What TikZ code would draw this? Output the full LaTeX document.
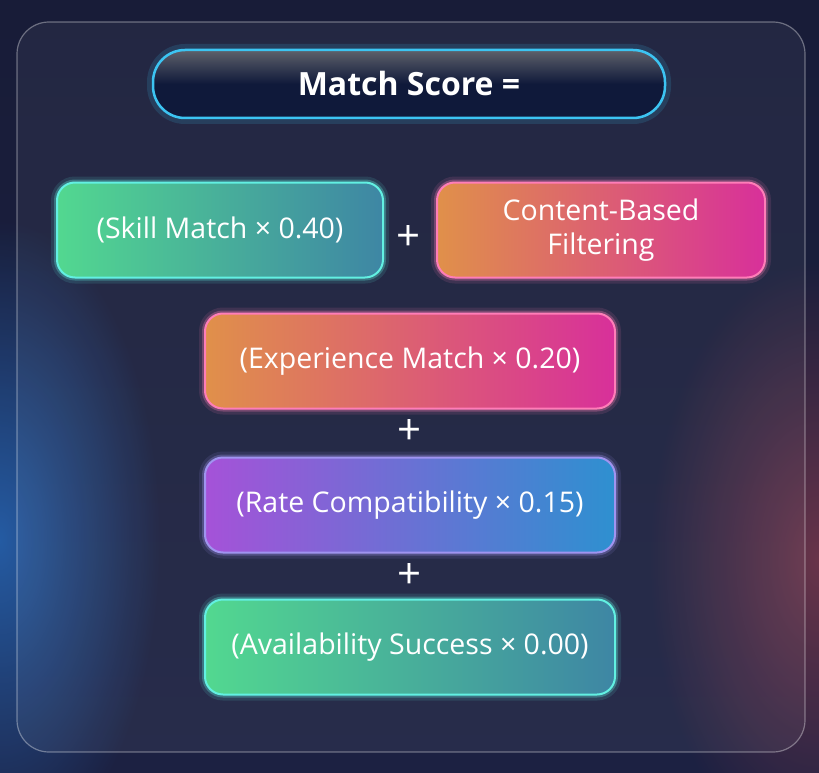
\documentclass[tikz,border=0pt]{standalone}
\usepackage{fontspec}
\setmainfont{Open Sans}
\usetikzlibrary{fadings}
\tikzfading[name=softglow,inner color=transparent!0,outer color=transparent!100]
\definecolor{bgtop}{HTML}{181C38}
\definecolor{bgbot}{HTML}{1C2142}
\definecolor{glowblue}{HTML}{2662AE}
\definecolor{glowred}{HTML}{8A3C4E}
\definecolor{grnA}{HTML}{52D890}
\definecolor{grnB}{HTML}{3E86A4}
\definecolor{grnC}{HTML}{62F0E2}
\definecolor{orgA}{HTML}{E0904A}
\definecolor{orgB}{HTML}{D8309A}
\definecolor{orgC}{HTML}{FF7DB8}
\definecolor{purA}{HTML}{A552D8}
\definecolor{purB}{HTML}{2E90D0}
\definecolor{purC}{HTML}{A094F0}
\definecolor{navy}{HTML}{0F193A}
\definecolor{titleC}{HTML}{3CC4F2}
\begin{document}
\begin{tikzpicture}
  [x=1pt,y=-1pt,every node/.style={text=white,font=\fontsize{28.5}{34}\selectfont},
   box/.style n args={3}{rounded corners=18pt,minimum height=95pt,left color=#1,right color=#2,
     draw=#3,line width=2pt,preaction={draw=#3,line width=12pt,opacity=.12},
     preaction={draw=#3,line width=6pt,opacity=.3}}]
  \tikzstyle{plus} = [font=\fontsize{42}{46}\selectfont]
  \tikzstyle{panel} = [rounded corners=32pt,fill=white,fill opacity=.05,draw=white,draw opacity=.35,line width=1.2pt]
  \tikzstyle{tbox} = [rounded corners=32pt,minimum width=512pt,minimum height=68pt,top color=gray!70!navy,
     bottom color=navy,middle color=navy,draw=titleC,line width=2.5pt,
     preaction={draw=titleC,line width=12pt,opacity=.15},font=\fontsize{32}{37}\selectfont\bfseries]
  \useasboundingbox (0,0) rectangle (819,773);
  \begin{scope}
  \clip (0,0) rectangle (819,773);
  \shade[top color=bgtop,bottom color=bgbot] (0,0) rectangle (819,773);
  \fill[glowblue,path fading=softglow,opacity=.9] (0,540) ellipse (160pt and 320pt);
  \fill[glowred,path fading=softglow,opacity=.7] (819,560) ellipse (170pt and 300pt);
  \end{scope}
  \draw[panel] (17,22) rectangle (805,752);

  \node[tbox] (score) at (409,84) {Match Score =};
  \node[box={grnA}{grnB}{grnC},minimum width=326pt] (skill) at (220,230) {(Skill Match × 0.40)};
  \node[box={orgA}{orgB}{orgC},minimum width=328pt,align=center] (content) at (601,230) {Content-Based\\Filtering};
  \node[box={orgA}{orgB}{orgC},minimum width=410pt] (exp) at (410,361) {(Experience Match × 0.20)};
  \node[box={purA}{purB}{purC},minimum width=410pt] (rate) at (410,505) {(Rate Compatibility × 0.15)};
  \node[box={grnA}{grnB}{grnC},minimum width=410pt] (avail) at (410,647) {(Availability Success × 0.00)};

\foreach \name/\px/\py in {p1/409/238,p2/410/432,p3/410/576}
   \node[plus] (\name) at (\px,\py) {+};
\end{tikzpicture}
\end{document}
